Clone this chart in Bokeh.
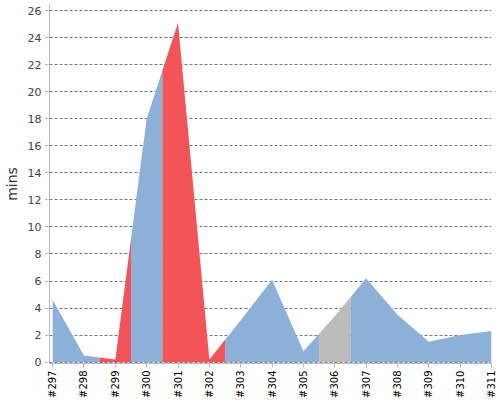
import math
from bokeh.plotting import figure
from bokeh.models import FixedTicker, ColumnDataSource
from bokeh.embed import file_html
from bokeh.resources import INLINE

categories = ["#297", "#298", "#299", "#300", "#301", "#302", "#303", "#304",
              "#305", "#306", "#307", "#308", "#309", "#310", "#311"]
values = [4.6, 0.5, 0.2, 18.0, 25.1, 0.2, 3.1, 6.1, 0.8, 3.4, 6.2, 3.5, 1.5, 2.0, 2.3]
status = ["ok", "ok", "bad", "ok", "bad", "bad", "ok", "ok", "ok", "none", "ok", "ok", "ok", "ok", "ok"]
y_ticks = list(range(0, 27, 2))

palette = {"ok": "#8DB0D9", "bad": "#F25457", "none": "#BBBBBB"}

p = figure(width=500, height=400, output_backend="svg", toolbar_location=None,
           x_range=(-0.1, len(categories) - 1), y_range=(-0.1, 26.45),
           min_border_left=48, min_border_right=9, min_border_top=4, min_border_bottom=36)
p.outline_line_color = None

n = len(values)
xs = list(range(n))

# group consecutive points with the same status
groups = []
for i in range(n):
    if groups and status[groups[-1][-1]] == status[i]:
        groups[-1].append(i)
    else:
        groups.append([i])

for g in groups:
    first, last = g[0], g[-1]
    seg_x, seg_y = [], []
    if first > 0:
        seg_x.append(first - 0.5)
        seg_y.append((values[first - 1] + values[first]) / 2)
    for i in g:
        seg_x.append(i)
        seg_y.append(values[i])
    if last < n - 1:
        seg_x.append(last + 0.5)
        seg_y.append((values[last] + values[last + 1]) / 2)
    src = ColumnDataSource(dict(x=seg_x, y1=[0] * len(seg_x), y2=seg_y))
    p.varea(x="x", y1="y1", y2="y2", source=src, fill_color=palette[status[first]], fill_alpha=1.0)

p.xaxis.ticker = FixedTicker(ticks=xs)
p.xaxis.major_label_overrides = {i: c for i, c in enumerate(categories)}
p.xaxis.major_label_orientation = math.pi / 2
p.xaxis.major_label_text_font = "DejaVu Sans"
p.xaxis.major_label_text_font_size = "10px"
p.xaxis.major_label_text_color = "#000000"
p.xaxis.axis_line_color = "#BBBBBB"
p.xaxis.major_tick_line_color = "#BBBBBB"
p.xaxis.major_tick_out = 4
p.xaxis.major_tick_in = 0
p.xaxis.minor_tick_line_color = None
p.xaxis.major_label_standoff = 3

p.yaxis.ticker = FixedTicker(ticks=y_ticks)
p.yaxis.axis_label = "mins"
p.yaxis.axis_label_text_font = "DejaVu Sans"
p.yaxis.axis_label_text_font_style = "normal"
p.yaxis.axis_label_text_font_size = "14px"
p.yaxis.axis_label_text_color = "#333333"
p.yaxis.axis_label_standoff = 5
p.yaxis.major_label_text_font = "DejaVu Sans"
p.yaxis.major_label_text_font_size = "11px"
p.yaxis.major_label_text_color = "#444444"
p.yaxis.axis_line_color = "#BBBBBB"
p.yaxis.major_tick_line_color = "#999999"
p.yaxis.major_tick_line_dash = "2 1"
p.yaxis.major_tick_out = 4
p.yaxis.major_tick_in = 0
p.yaxis.minor_tick_line_color = None
p.yaxis.major_label_standoff = 4

p.xgrid.grid_line_color = None
p.ygrid.grid_line_color = "#777777"
p.ygrid.grid_line_dash = "3 2"
p.ygrid.grid_line_width = 1

open("out.html", "w").write(file_html(p, INLINE))
